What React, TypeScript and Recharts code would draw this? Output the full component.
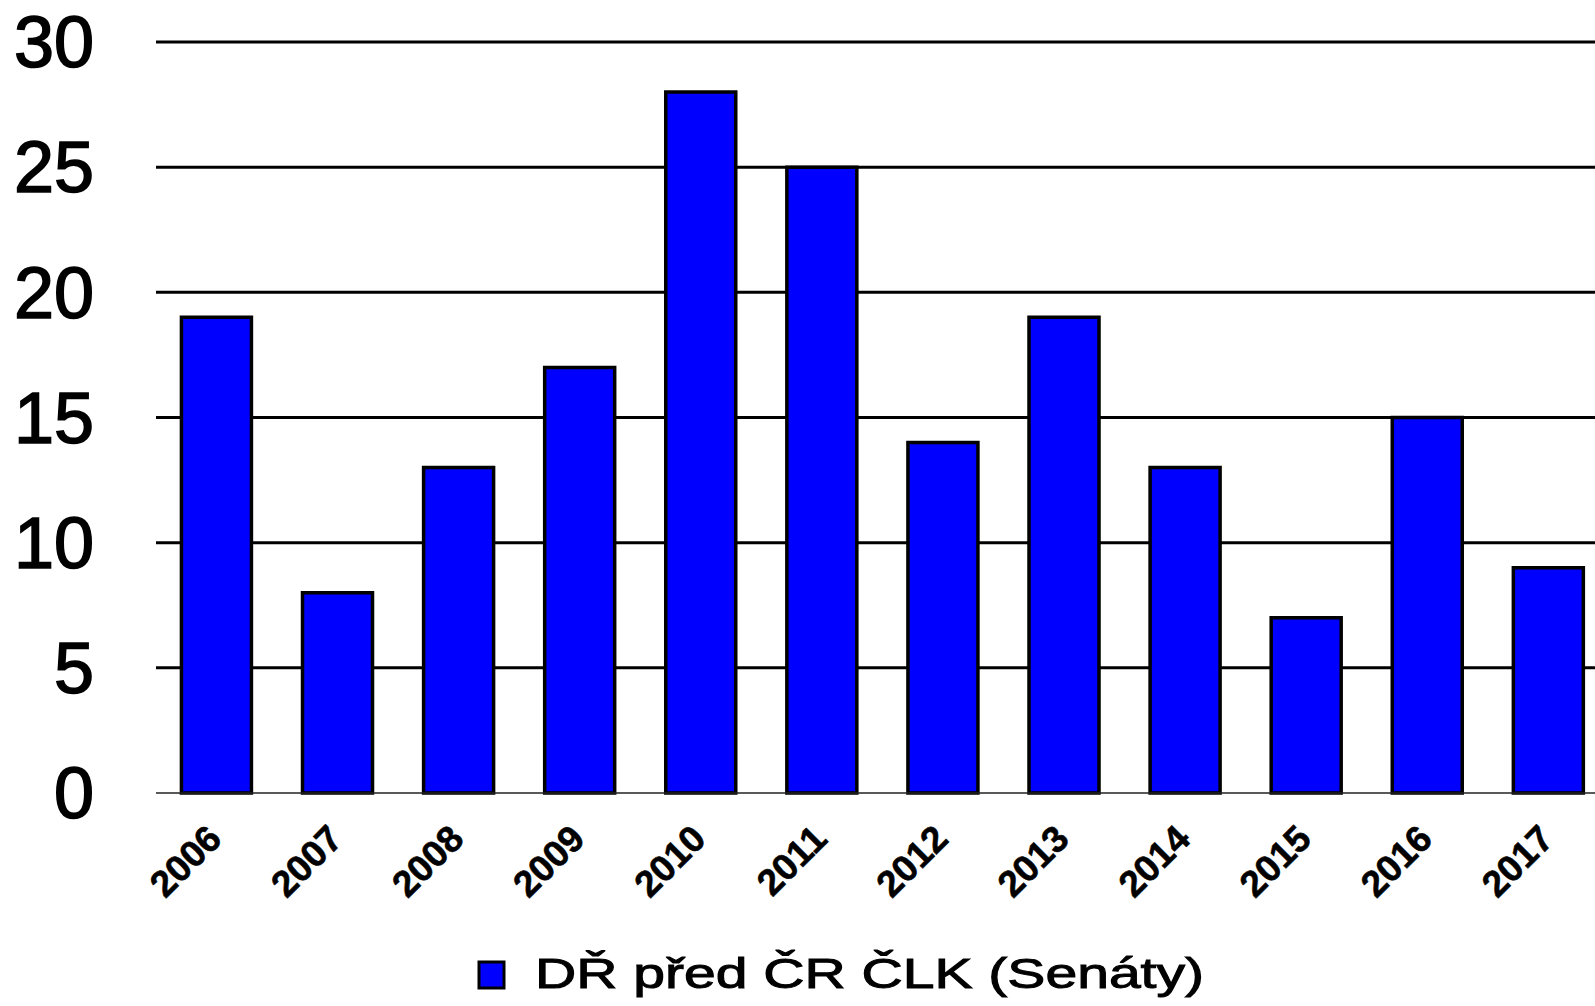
import React from "react";
import { BarChart, Bar, XAxis, YAxis, CartesianGrid, Legend } from "recharts";

const years = ["2006", "2007", "2008", "2009", "2010", "2011", "2012", "2013", "2014", "2015", "2016", "2017"];
const counts = [19, 8, 13, 17, 28, 25, 14, 19, 13, 7, 15, 9];
const yTicks = [0, 5, 10, 15, 20, 25, 30];
const seriesName = "DŘ před ČR ČLK (Senáty)";

const data = years.map((year, i) => ({ year, count: counts[i] }));

const FONT = "'Liberation Sans', Arial, sans-serif";

function YTick({ x, y, payload }: any) {
  return (
    <text
      x={x - 62}
      y={y}
      dy="0.35em"
      textAnchor="end"
      fontFamily={FONT}
      fontSize={72}
      fill="#000"
      stroke="#000"
      strokeWidth={1.6}
    >
      {payload.value}
    </text>
  );
}

function XTick({ x, y, payload }: any) {
  const ax = x + 7;
  const ay = y + 48;
  return (
    <text
      x={ax}
      y={ay}
      textAnchor="end"
      transform={`rotate(-45 ${ax} ${ay})`}
      fontFamily={FONT}
      fontWeight="bold"
      fontSize={37}
      fill="#000"
      stroke="#000"
      strokeWidth={0.6}
    >
      {payload.value}
    </text>
  );
}

// legend drawn in page coords (legend box spans y 946..1006)
function LegendBox() {
  return (
    <div style={{ height: 60 }}>
      <svg width={1595} height={60} style={{ display: "block" }}>
        <rect x={479} y={16} width={25} height={26} fill="#0000FF" stroke="#000" strokeWidth={3} />
        <text
          x={535}
          y={42}
          fontFamily={FONT}
          fontSize={43}
          textLength={669}
          lengthAdjust="spacingAndGlyphs"
          fill="#000"
          stroke="#000"
          strokeWidth={1}
        >
          {seriesName}
        </text>
      </svg>
    </div>
  );
}

export default function App() {
  return (
    <div
      style={{
        position: "fixed",
        left: 0,
        top: 0,
        width: 1595,
        height: 1006,
        overflow: "hidden",
        background: "#fff",
      }}
    >
      <BarChart
        width={1610}
        height={1006}
        data={data}
        margin={{ top: 42, right: 1, bottom: 0, left: 0 }}
        barCategoryGap="21%"
      >
        <CartesianGrid
          vertical={false}
          horizontalValues={[5, 10, 15, 20, 25, 30]}
          stroke="#000"
          strokeWidth={3}
        />
        <XAxis
          dataKey="year"
          height={153}
          interval={0}
          tickLine={false}
          tickSize={0}
          tickMargin={0}
          axisLine={{ stroke: "#222", strokeWidth: 1.5 }}
          tick={<XTick />}
        />
        <YAxis
          width={156}
          domain={[0, 30]}
          ticks={yTicks}
          axisLine={false}
          tickLine={false}
          tickSize={0}
          tickMargin={0}
          tick={<YTick />}
        />
        <Legend verticalAlign="bottom" content={() => <LegendBox />} />
        <Bar
          dataKey="count"
          name={seriesName}
          fill="#0000FF"
          stroke="#000"
          strokeWidth={3.5}
          isAnimationActive={false}
        />
      </BarChart>
    </div>
  );
}
